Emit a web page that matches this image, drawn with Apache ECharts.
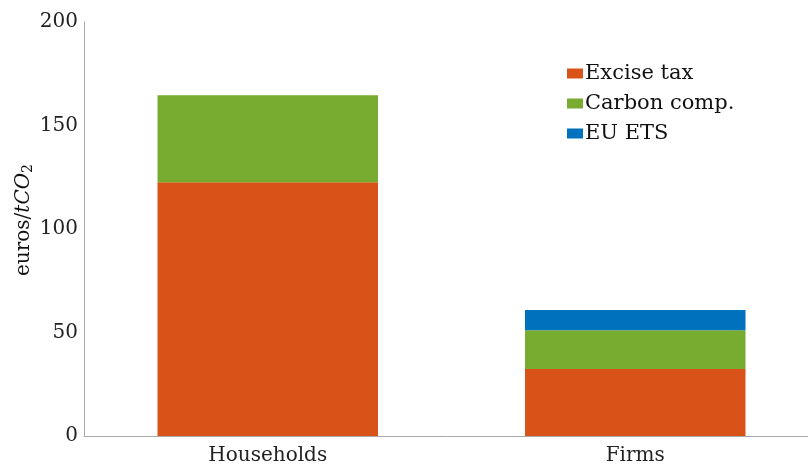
<!DOCTYPE html>
<html><head><meta charset="utf-8">
<script src="https://cdn.jsdelivr.net/npm/echarts@6/dist/echarts.min.js"></script>
<style>html,body{margin:0;padding:0;background:#fff}#c{width:808px;height:466px}</style>
</head><body><div id="c"></div>
<script>
const categories = ['Households', 'Firms'];
const exciseTax = [122.6, 32.4];
const carbonComp = [42.0, 18.7];
const euEts = [0, 9.8];
const yTicks = [0, 50, 100, 150, 200];

const FONT = '"DejaVu Serif", "Liberation Serif", serif';
const chart = echarts.init(document.getElementById('c'));
chart.setOption({
  animation: false,
  backgroundColor: '#fff',
  grid: { left: 84, top: 22, bottom: 30, width: 735, containLabel: false, outerBoundsMode: 'none' },
  legend: {
    orient: 'vertical', left: 562, top: 58, itemGap: 9,
    itemWidth: 16, itemHeight: 10, icon: 'rect',
    textStyle: { fontFamily: FONT, fontSize: 21, color: '#111', padding: [0,0,0,-3] },
    data: ['Excise tax', 'Carbon comp.', 'EU ETS']
  },
  xAxis: {
    type: 'category', data: categories,
    axisLine: { lineStyle: { color: '#a8a8a8', width: 1 } },
    axisTick: { show: false },
    axisLabel: { fontFamily: FONT, fontSize: 20, color: '#222', margin: 10 }
  },
  yAxis: {
    type: 'value', min: yTicks[0], max: yTicks[yTicks.length-1], interval: 50,
    axisLine: { show: true, lineStyle: { color: '#a8a8a8', width: 1 } },
    axisTick: { show: false },
    splitLine: { show: false },
    axisLabel: { fontFamily: FONT, fontSize: 20, color: '#222', margin: 6 },
    name: '{a|euros/}{i|tCO}{s|2}',
    nameLocation: 'middle', nameGap: 49, nameRotate: 90, nameMoveOverlap: false,
    nameTextStyle: {
      padding: [0, 0, 0, 18],
      rich: {
        a: { fontFamily: FONT, fontSize: 20, color: '#111' },
        i: { fontFamily: FONT, fontSize: 20, fontStyle: 'italic', color: '#111' },
        s: { fontFamily: FONT, fontSize: 14, color: '#111', verticalAlign: 'bottom', padding: [8,0,0,0] }
      }
    }
  },
  series: [
    { name: 'Excise tax', type: 'bar', stack: 't', data: exciseTax, barWidth: '60%', itemStyle: { color: '#D95319' } },
    { name: 'Carbon comp.', type: 'bar', stack: 't', data: carbonComp, itemStyle: { color: '#77AC30' } },
    { name: 'EU ETS', type: 'bar', stack: 't', data: euEts, itemStyle: { color: '#0072BD' } }
  ]
});
</script></body></html>
